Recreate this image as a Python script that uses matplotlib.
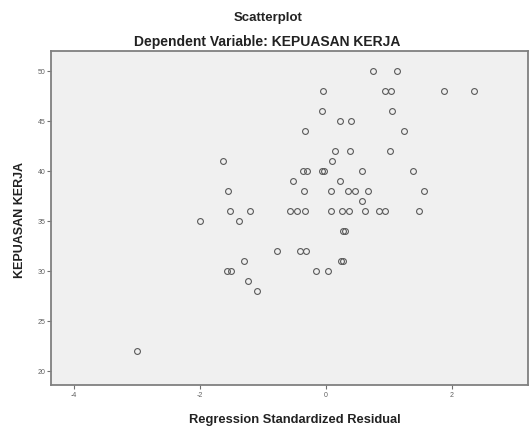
import matplotlib
matplotlib.use("Agg")
import matplotlib.pyplot as plt

plt.rcParams['font.family'] = ['Liberation Sans', 'DejaVu Sans']

# Regression standardized residual (x) vs KEPUASAN KERJA (y)
resid = [0.74, 1.13,
         -0.05, 0.93, 1.03, 1.88, 2.35,
         -0.07, 1.05,
         0.23, 0.40,
         -0.33, 1.24,
         0.14, 0.38, 1.02,
         -1.64, 0.10,
         -0.37, -0.30, -0.06, -0.03, 0.57, 1.39,
         -0.53, 0.22,
         -1.55, -0.35, 0.08, 0.35, 0.46, 0.66, 1.56,
         0.57,
         -1.52, -1.20, -0.57, -0.46, -0.33, 0.08, 0.26, 0.36, 0.62, 0.85, 0.94, 1.48,
         -2.00, -1.38,
         0.27, 0.30,
         -0.77, -0.41, -0.31,
         -1.30, 0.24, 0.27,
         -1.57, -1.50, -0.16, 0.03,
         -1.23,
         -1.10,
         -3.00]
kepuasan = [50, 50,
            48, 48, 48, 48, 48,
            46, 46,
            45, 45,
            44, 44,
            42, 42, 42,
            41, 41,
            40, 40, 40, 40, 40, 40,
            39, 39,
            38, 38, 38, 38, 38, 38, 38,
            37,
            36, 36, 36, 36, 36, 36, 36, 36, 36, 36, 36, 36,
            35, 35,
            34, 34,
            32, 32, 32,
            31, 31, 31,
            30, 30, 30, 30,
            29,
            28,
            22]

xticks = [-4, -2, 0, 2]
yticks = [20, 25, 30, 35, 40, 45, 50]

fig = plt.figure(figsize=(5.30, 4.27), dpi=100)
fig.patch.set_facecolor('white')
ax = fig.add_axes([0.0962, 0.096, 0.8998, 0.782])
ax.set_facecolor('#f0f0f0')

ax.plot(resid, kepuasan, linestyle='none', marker='o', markersize=4.2,
        markerfacecolor='none', markeredgecolor='#5a5a5a', markeredgewidth=0.8)

ax.set_xlim(-4.365, 3.206)
ax.set_ylim(18.57, 51.97)
ax.set_xticks(xticks)
ax.set_yticks(yticks)
ax.set_xticklabels([str(t) for t in xticks])
ax.set_yticklabels([str(t) for t in yticks])
ax.tick_params(axis='both', direction='out', length=3, width=0.8,
               colors='#707070', labelsize=5, labelcolor='#606060', pad=1)

for s in ax.spines.values():
    s.set_color('#808080')
    s.set_linewidth(1.3)

fig.text(0.505, 0.958, 'Scatterplot', ha='center', va='center',
         fontsize=9.5, fontweight='bold', color='#222222')
fig.text(0.505, 0.901, 'Dependent Variable: KEPUASAN KERJA', ha='center',
         va='center', fontsize=10, fontweight='bold', color='#222222')
fig.text(0.557, 0.017, 'Regression Standardized Residual', ha='center',
         va='center', fontsize=9.3, fontweight='bold', color='#222222')
fig.text(0.038, 0.485, 'KEPUASAN KERJA', ha='center', va='center',
         rotation=90, fontsize=9, fontweight='bold', color='#222222')

fig.savefig('out.png', dpi=100, facecolor='white')
